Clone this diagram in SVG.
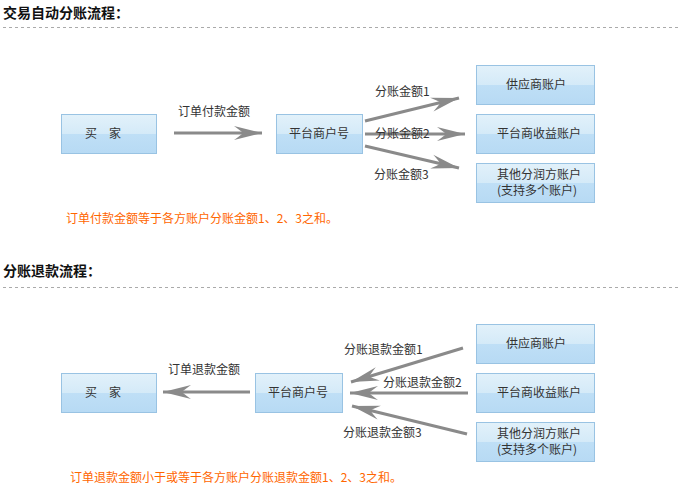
<svg xmlns="http://www.w3.org/2000/svg" width="683" height="498" viewBox="0 0 683 498">
<style>
text{font-family:"Noto Sans CJK SC","Liberation Sans",sans-serif;font-size:12px;fill:#333}
.title{font-size:14px;font-weight:bold;fill:#111}
.note{fill:#ff6600}
.box{fill:url(#g);stroke:#99c3e3;stroke-width:1}
.rule{stroke:#aaa;stroke-width:1;stroke-dasharray:3 3}
.arr{stroke:#8a8a8a;stroke-width:3;fill:none;marker-end:url(#ah)}
.c{text-anchor:middle}
</style>
<defs>
<linearGradient id="g" x1="0" y1="0" x2="0" y2="1">
<stop offset="0" stop-color="#e2f1fa"/>
<stop offset="0.5" stop-color="#d4eaf8"/>
<stop offset="0.5" stop-color="#bfdff6"/>
<stop offset="1" stop-color="#b7daf4"/>
</linearGradient>
<marker id="ah" markerUnits="userSpaceOnUse" markerWidth="32" markerHeight="18" viewBox="-30 -9 32 18" refX="0" refY="0" orient="auto">
<path d="M0,0 L-28,-7 Q-21,-2 -19,0 Q-21,2 -28,7 Z" fill="#8a8a8a"/>
</marker>
</defs>

<text class="title" x="3" y="18">交易自动分账流程：</text>
<line class="rule" x1="3" y1="27.5" x2="680" y2="27.5"/>

<g id="buyer1"><rect class="box" x="61.5" y="114.5" width="95" height="39"/><text class="c" x="103" y="138">买　家</text></g>
<g id="platform1"><rect class="box" x="276.5" y="114.5" width="86" height="39"/><text class="c" x="319" y="138">平台商户号</text></g>
<g id="supplier1"><rect class="box" x="476.5" y="65.5" width="118" height="39"/><text class="c" x="536" y="89">供应商账户</text></g>
<g id="profit1"><rect class="box" x="476.5" y="114.5" width="118" height="39"/><text class="c" x="539" y="138">平台商收益账户</text></g>
<g id="other1"><rect class="box" x="476.5" y="163.5" width="118" height="39"/><text class="c" x="539" y="179">其他分润方账户</text><text class="c" x="537" y="195">(支持多个账户)</text></g>

<g id="connectors1">
<line class="arr" x1="174" y1="133" x2="262" y2="133"/>
<line class="arr" x1="365" y1="121" x2="459" y2="98"/>
<line class="arr" x1="365" y1="134" x2="465" y2="134"/>
<line class="arr" x1="365" y1="146" x2="459" y2="168"/>
<text x="178" y="116">订单付款金额</text>
<text x="375" y="96">分账金额1</text>
<text x="375" y="138">分账金额2</text>
<text x="374" y="179">分账金额3</text>
</g>
<text class="note" x="66" y="223">订单付款金额等于各方账户分账金额1、2、3之和。</text>

<text class="title" x="3" y="276">分账退款流程：</text>
<line class="rule" x1="3" y1="287.5" x2="680" y2="287.5"/>

<g id="buyer2"><rect class="box" x="61.5" y="373.5" width="95" height="39"/><text class="c" x="103" y="397">买　家</text></g>
<g id="platform2"><rect class="box" x="255.5" y="373.5" width="87" height="39"/><text class="c" x="298" y="397">平台商户号</text></g>
<g id="supplier2"><rect class="box" x="476.5" y="324.5" width="118" height="39"/><text class="c" x="536" y="348">供应商账户</text></g>
<g id="profit2"><rect class="box" x="476.5" y="373.5" width="118" height="39"/><text class="c" x="539" y="397">平台商收益账户</text></g>
<g id="other2"><rect class="box" x="476.5" y="422.5" width="118" height="39"/><text class="c" x="539" y="438">其他分润方账户</text><text class="c" x="537" y="454">(支持多个账户)</text></g>

<g id="connectors2">
<line class="arr" x1="250" y1="392" x2="163" y2="392"/>
<line class="arr" x1="463" y1="348" x2="351" y2="382"/>
<line class="arr" x1="468" y1="393" x2="350" y2="393"/>
<line class="arr" x1="467" y1="434" x2="352" y2="406"/>
<text x="168" y="374">订单退款金额</text>
<text x="344" y="354">分账退款金额1</text>
<text x="383" y="387">分账退款金额2</text>
<text x="343" y="437">分账退款金额3</text>
</g>
<text class="note" x="70" y="482">订单退款金额小于或等于各方账户分账退款金额1、2、3之和。</text>
</svg>
